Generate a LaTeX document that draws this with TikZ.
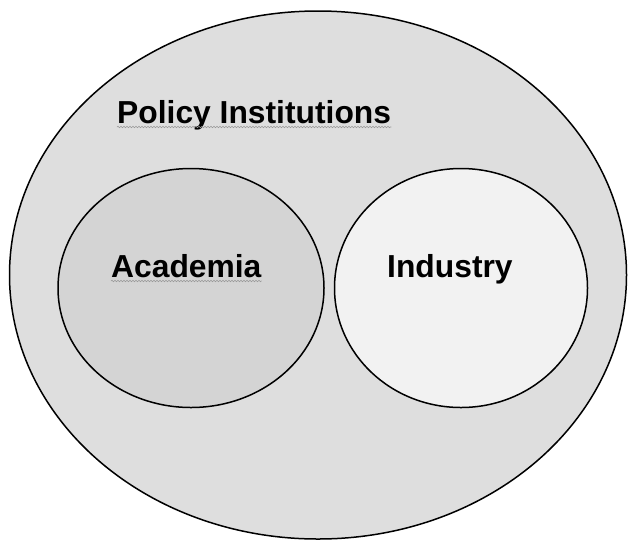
\documentclass[tikz,border=0pt]{standalone}
\usepackage{fontspec}
\setmainfont{Liberation Sans}
\usepackage{tikz}
\usetikzlibrary{shapes.geometric,decorations.pathmorphing}
\definecolor{outerfill}{RGB}{222,222,222}
\definecolor{acadfill}{RGB}{212,212,212}
\definecolor{indfill}{RGB}{242,242,242}
\tikzset{
  blob/.style={ellipse,draw=black,line width=1.5pt,inner sep=0pt,outer sep=0pt},
  lbl/.style={font=\fontsize{31.8}{36}\selectfont\bfseries,inner sep=0pt,anchor=base west},
  squiggle/.style={draw=gray!80,line width=0.6pt,decorate,decoration={snake,amplitude=0.7pt,segment length=3pt}}
}

\begin{document}
\begin{tikzpicture}[x=1pt,y=-1pt]
  \useasboundingbox (0,0) rectangle (629,542);
  \node[blob,fill=outerfill,minimum width=617pt,minimum height=528pt] (policy) at (318,275) {};
  \node[blob,fill=acadfill,minimum width=266pt,minimum height=239pt] (acad) at (191,288) {};
  \node[blob,fill=indfill,minimum width=253pt,minimum height=239pt] (ind) at (461,288) {};
  \node[lbl] (poltxt) at (117,123) {Policy Institutions};
  \node[lbl] (acadtxt) at (111,277) {Academia};
  \node[lbl] (indtxt) at (387,277) {Industry};
  % spell-check squiggles
  \draw[squiggle] ([yshift=-4pt]poltxt.base west) -- ([yshift=-4pt]poltxt.base east);
  \draw[squiggle] ([yshift=-4pt]acadtxt.base west) -- ([yshift=-4pt]acadtxt.base east);
\end{tikzpicture}
\end{document}
